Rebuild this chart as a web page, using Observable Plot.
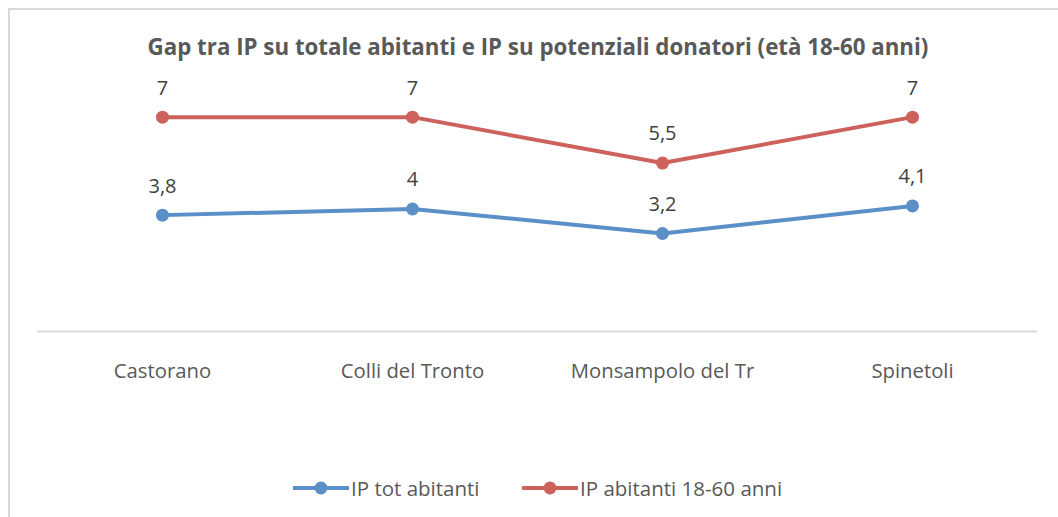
<!DOCTYPE html>
<html>
<head>
<meta charset="utf-8">
<script src="https://cdn.jsdelivr.net/npm/d3@7"></script>
<script src="https://cdn.jsdelivr.net/npm/@observablehq/plot@0.6"></script>
<style>
  html, body { margin: 0; padding: 0; background: #fff; }
  #wrap { position: relative; width: 1058px; height: 517px; overflow: hidden; font-family: "Open Sans", sans-serif; }
  #border { position: absolute; left: 8px; top: 8px; width: 1100px; height: 600px; border: 2px solid #d9d9d9; box-sizing: border-box; }
  #title { position: absolute; left: 0; width: 1076px; top: 31px; text-align: center; font-weight: bold; font-size: 22.3px; color: #595959; }
  #chart { position: absolute; left: 0; top: 0; }
  #legend { position: absolute; left: 0; top: 474px; width: 1058px; font-size: 20.5px; color: #595959; }
  .item { position: absolute; display: flex; align-items: center; }
  .item svg { margin-right: 2px; }
</style>
</head>
<body>
<div id="wrap">
  <div id="border"></div>
  <div id="title">Gap tra IP su totale abitanti e IP su potenziali donatori (età 18-60 anni)</div>
  <div id="chart"></div>
  <div id="legend"></div>
</div>
<script>
const categories = ["Castorano", "Colli del Tronto", "Monsampolo del Tr", "Spinetoli"];
const seriesNames = ["IP tot abitanti", "IP abitanti 18-60 anni"];
const ipTotAbitanti = [3.8, 4, 3.2, 4.1];
const ipAbitanti1860 = [7, 7, 5.5, 7];
const seriesColors = ["#5b8fc8", "#cd625c"];

const data = [];
categories.forEach((c, i) => {
  data.push({cat: c, series: seriesNames[0], value: ipTotAbitanti[i]});
  data.push({cat: c, series: seriesNames[1], value: ipAbitanti1860[i]});
});
const fmt = v => String(v).replace(".", ",");

const plot = Plot.plot({
  width: 1058,
  height: 420,
  marginTop: 86,
  marginBottom: 89,
  marginLeft: 37,
  marginRight: 21,
  style: { fontFamily: "Open Sans, sans-serif", background: "transparent", overflow: "visible" },
  x: { domain: categories, type: "point", padding: 0.5, label: null, tickSize: 0, tickPadding: 32, fontSize: 20 },
  y: { domain: [0, 8], axis: null },
  color: { domain: seriesNames, range: seriesColors },
  marks: [
    Plot.ruleY([0], { stroke: "#d9d9d9", strokeWidth: 2 }),
    Plot.line(data, { x: "cat", y: "value", z: "series", stroke: "series", strokeWidth: 4 }),
    Plot.dot(data, { x: "cat", y: "value", fill: "series", r: 6.5 }),
    Plot.text(data, { x: "cat", y: "value", text: d => fmt(d.value), dy: -29, fontSize: 20, fill: "#404040" }),
    Plot.axisX({ tickSize: 0, tickPadding: 32, fontSize: 20.3, color: "#595959", label: null })
  ]
});
document.getElementById("chart").appendChild(plot);

const legend = document.getElementById("legend");
const legendX = [293, 522];
seriesNames.forEach((name, i) => {
  const item = document.createElement("div");
  item.className = "item";
  item.style.left = legendX[i] + "px";
  item.innerHTML = `<svg width="56" height="26"><line x1="1" x2="55" y1="13" y2="13" stroke="${seriesColors[i]}" stroke-width="4" stroke-linecap="round"/><circle cx="28" cy="13" r="6.5" fill="${seriesColors[i]}"/></svg><span>${name}</span>`;
  legend.appendChild(item);
});
</script>
</body>
</html>
